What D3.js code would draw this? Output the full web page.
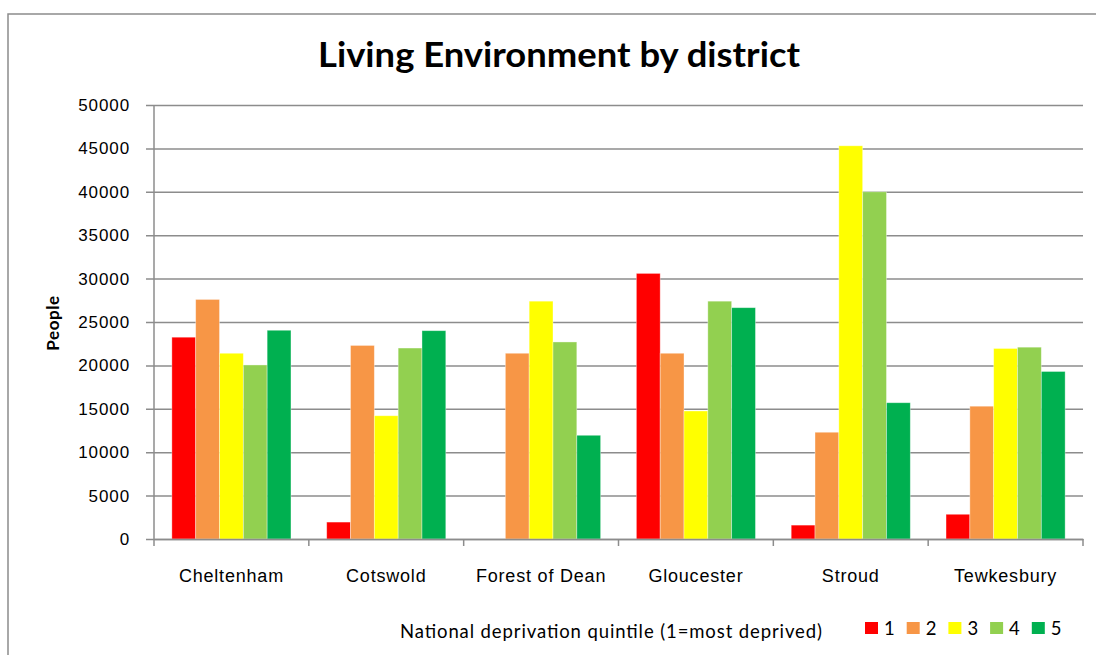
<!DOCTYPE html>
<html>
<head>
<meta charset="utf-8">
<script src="https://cdn.jsdelivr.net/npm/d3@7"></script>
<style>
  body { margin: 0; background: #fff; }
  svg { display: block; font-family: Lato, "Liberation Sans", sans-serif; }
</style>
</head>
<body>
<div id="chart"></div>
<script>
var districts = ["Cheltenham", "Cotswold", "Forest of Dean", "Gloucester", "Stroud", "Tewkesbury"];
var quintiles = ["1", "2", "3", "4", "5"];
var q1 = [23250, 1950, 0, 30600, 1600, 2850];
var q2 = [27600, 22300, 21400, 21400, 12300, 15300];
var q3 = [21400, 14200, 27400, 14750, 45300, 21950];
var q4 = [20050, 22000, 22700, 27400, 40000, 22100];
var q5 = [24050, 24000, 11950, 26650, 15700, 19300];
var yTicks = [0, 5000, 10000, 15000, 20000, 25000, 30000, 35000, 40000, 45000, 50000];
var colors = ["#ff0000", "#f79646", "#ffff00", "#92d050", "#00b050"];

function visualize() {
    var w = 1096, h = 655;
    var left = 154, right = 1083, top = 105, bottom = 539;
    var series = [q1, q2, q3, q4, q5];

    var svg = d3.select("#chart").append("svg").attr("width", w).attr("height", h);

    // outer chart border
    svg.append("rect")
        .attr("x", 8).attr("y", 14)
        .attr("width", w + 20).attr("height", h + 20)
        .attr("fill", "none").attr("stroke", "#8c8c8c").attr("stroke-width", 1.5);

    var xScale = d3.scaleBand().domain(districts).range([left, right]);
    var xInner = d3.scaleBand().domain(quintiles).range([0, xScale.bandwidth()]).paddingOuter(0.75);
    var yScale = d3.scaleLinear().domain([0, 50000]).range([bottom, top]);
    var color = d3.scaleOrdinal().domain(quintiles).range(colors);

    // gridlines + y axis
    var yAxis = d3.axisLeft(yScale).tickValues(yTicks).tickFormat(d3.format("d"))
        .tickSize(-(right - left)).tickSizeOuter(0).tickPadding(24);
    var yAxisGroup = svg.append("g").attr("transform", "translate(" + left + ",0)").call(yAxis);
    yAxisGroup.select(".domain").remove();
    yAxisGroup.selectAll(".tick line").attr("stroke", "#8c8c8c").attr("stroke-width", 1.5).attr("x1", -8);
    yAxisGroup.selectAll(".tick text")
        .style("font-size", "17px").style("letter-spacing", "0.9px").attr("fill", "#000");

    svg.append("line")
        .attr("x1", left).attr("x2", left).attr("y1", top).attr("y2", bottom)
        .attr("stroke", "#8c8c8c").attr("stroke-width", 1.5);

    // bars
    var groups = svg.selectAll("g.district")
        .data(districts)
        .enter()
        .append("g")
        .attr("class", "district")
        .attr("transform", (d) => "translate(" + xScale(d) + ",0)");

    groups.selectAll("rect")
        .data((d, i) => quintiles.map((q, j) => ({ q: q, v: series[j][i] })))
        .enter()
        .append("rect")
        .attr("x", (d) => xInner(d.q))
        .attr("y", (d) => yScale(d.v))
        .attr("width", xInner.bandwidth())
        .attr("height", (d) => yScale(0) - yScale(d.v))
        .attr("fill", (d) => color(d.q))
        .attr("stroke", "rgba(255,255,255,0.45)")
        .attr("stroke-width", 0.8);

    // x axis
    var xAxis = d3.axisBottom(xScale).tickSize(0).tickPadding(30);
    var xAxisGroup = svg.append("g").attr("transform", "translate(0," + bottom + ")").call(xAxis);
    xAxisGroup.select(".domain").attr("stroke", "#8c8c8c").attr("stroke-width", 1.5);
    xAxisGroup.selectAll(".tick text")
        .style("font-size", "18px").style("letter-spacing", "0.8px").attr("fill", "#000");

    var edges = districts.map((d) => xScale(d)).concat([right]);
    svg.selectAll("line.xtick")
        .data(edges)
        .enter()
        .append("line")
        .attr("class", "xtick")
        .attr("x1", (d) => d).attr("x2", (d) => d)
        .attr("y1", bottom).attr("y2", bottom + 7)
        .attr("stroke", "#8c8c8c").attr("stroke-width", 1.5);

    // title
    svg.append("text")
        .attr("x", 559).attr("y", 67)
        .attr("text-anchor", "middle")
        .attr("textLength", 482).attr("lengthAdjust", "spacingAndGlyphs")
        .style("font-size", "34px").style("font-weight", "bold")
        .text("Living Environment by district");

    // y axis title
    svg.append("text")
        .attr("transform", "translate(59,323) rotate(-90)")
        .attr("text-anchor", "middle")
        .style("font-size", "17px").style("font-weight", "bold").style("letter-spacing", "0.6px")
        .text("People");

    // legend
    svg.append("text")
        .attr("x", 400).attr("y", 638)
        .attr("textLength", 422).attr("lengthAdjust", "spacing")
        .style("font-size", "18.5px")
        .text("National deprivation quintile (1=most deprived)");

    var legend = svg.selectAll("g.legend")
        .data(quintiles)
        .enter()
        .append("g")
        .attr("class", "legend")
        .attr("transform", (d, i) => "translate(" + (865 + i * 41.7) + ",622)");

    legend.append("rect")
        .attr("width", 13).attr("height", 12)
        .attr("fill", (d) => color(d));

    legend.append("text")
        .attr("x", 19).attr("y", 13)
        .style("font-size", "18.5px")
        .text((d) => d);
}

document.addEventListener("DOMContentLoaded", () => {
    visualize();
});
</script>
</body>
</html>
